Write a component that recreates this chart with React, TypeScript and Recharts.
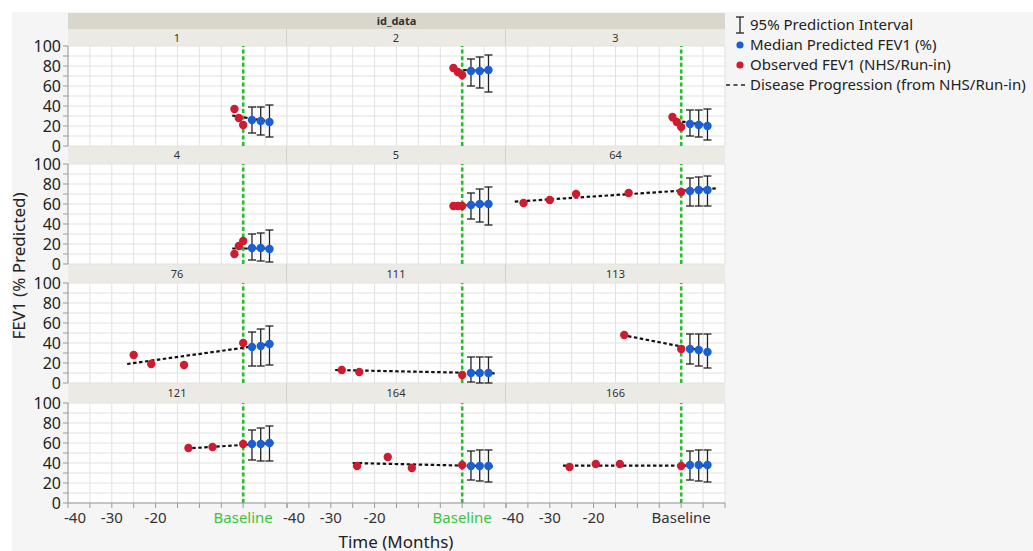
import { CartesianGrid, ComposedChart, ErrorBar, Line, ReferenceLine, Scatter, XAxis, YAxis } from "recharts";

const PANEL_IDS = ["1", "2", "3", "4", "5", "64", "76", "111", "113", "121", "164", "166"];

const OBS_MONTHS = [
  [-2, -1, 0], [-2, -1, 0], [-2, -1, 0],
  [-2, -1, 0], [-2, -1, 0], [-36, -30, -24, -12, 0],
  [-25, -21, -13.5, 0], [-27.5, -23.5, 0], [-13, 0],
  [-12.5, -7, 0], [-24, -17, -11.5, 0], [-25.5, -19.5, -14, 0],
];
const OBS_FEV1 = [
  [37, 28, 21], [78, 74, 71], [29, 24, 19],
  [10, 18, 23], [58, 58, 58], [61, 64, 70, 71, 72],
  [28, 19, 18, 40], [13, 11, 8], [48, 34],
  [55, 56, 59], [37, 46, 35, 38], [36, 39, 39, 37],
];

const PRED_MONTHS = [2, 4, 6];
const PRED_MEDIAN = [
  [26, 25, 24], [75, 75, 76], [22, 21, 20],
  [16, 16, 15], [59, 60, 60], [73, 74, 74],
  [36, 37, 39], [10, 10, 10], [34, 33, 31],
  [59, 59, 60], [37, 37, 37], [38, 38, 38],
];
const PRED_LOWER = [
  [13, 11, 9], [60, 58, 54], [10, 9, 6],
  [4, 3, 2], [45, 42, 39], [58, 58, 58],
  [17, 17, 18], [1, 0, 0], [19, 17, 15],
  [43, 42, 42], [23, 22, 21], [23, 22, 21],
];
const PRED_UPPER = [
  [39, 39, 41], [87, 89, 91], [36, 36, 37],
  [30, 31, 34], [71, 75, 77], [86, 87, 88],
  [51, 54, 57], [26, 26, 26], [49, 49, 49],
  [73, 75, 77], [52, 53, 53], [52, 53, 53],
];

// disease progression line: start / end month and value
const TREND_MONTHS = [
  [-2.5, 6.5], [-2.5, 6.5], [-2.5, 6.5],
  [-2.5, 6.5], [-2.5, 6.5], [-38, 8],
  [-26.5, 7], [-29, 7.5], [-13.5, 6.5],
  [-13, 7], [-25, 7], [-27, 7],
];
const TREND_FEV1 = [
  [30.5, 24], [76, 75.5], [26, 20.5],
  [15.5, 15.5], [58.3, 60], [62.3, 75.7],
  [19, 39.5], [13, 9.7], [48, 31],
  [54.5, 60], [40, 36.7], [37.3, 37.3],
];

const X_TICKS = [-40, -35, -30, -25, -20, -15, -10, -5, 0, 5, 10];
const X_LABELS: Record<number, string> = { [-40]: "-40", [-30]: "-30", [-20]: "-20", 0: "Baseline" };
const Y_TICKS = [0, 10, 20, 30, 40, 50, 60, 70, 80, 90, 100];

const COL_X = [68, 287, 506];
const ROW_TOP = [46, 164, 283, 403];
const PW = 219;
const PH = 100;
const YW = 60;
const XH = 34;
const PAD_X = 18;
const PAD_Y = 10;

const RED = "#cf1b30";
const BLUE = "#1a5fd4";
const GREEN = "#25c025";
const GRID = "#e2e2e2";
const FONT = "'Noto Sans', 'Open Sans', sans-serif";

function Dot({ cx, cy, fill }: any) {
  if (cx == null || cy == null) return null;
  return <circle cx={cx} cy={cy} r={4.2} fill={fill} />;
}

function Panel({ index }: { index: number }) {
  const r = Math.floor(index / 3);
  const c = index % 3;
  const showY = c === 0;
  const showX = r === 3;
  const obs = OBS_MONTHS[index].map((x, i) => ({ x, y: OBS_FEV1[index][i] }));
  const pred = PRED_MONTHS.map((x, i) => {
    const y = PRED_MEDIAN[index][i];
    return { x, y, err: [y - PRED_LOWER[index][i], PRED_UPPER[index][i] - y] };
  });
  const trend = TREND_MONTHS[index].map((x, i) => ({ x, y: TREND_FEV1[index][i] }));
  const width = PW + 2 * PAD_X + (showY ? YW : 0);
  const height = PH + 2 * PAD_Y + (showX ? XH : 0);

  const xTick = ({ x, y, payload }: any) => {
    const label = X_LABELS[payload.value] ?? "";
    const fill = payload.value === 0 && c < 2 ? "#3cc43c" : "#333";
    // the leftmost label is pushed inside the panel, as in the original
    const edge = payload.value === -40;
    return (
      <text x={edge ? x - 4 : x} y={y} dy={13} textAnchor={edge ? "start" : "middle"} fontSize={15} fill={fill} fontFamily={FONT}>
        {label}
      </text>
    );
  };

  return (
    <div style={{ position: "absolute", left: COL_X[c] - PAD_X - (showY ? YW : 0), top: ROW_TOP[r] - PAD_Y }}>
      <ComposedChart width={width} height={height} margin={{ top: PAD_Y, right: PAD_X, bottom: PAD_Y, left: PAD_X }}>
        <CartesianGrid stroke={GRID} strokeWidth={1} fill="#fff" />
        <XAxis
          type="number"
          dataKey="x"
          domain={[-40, 10]}
          ticks={X_TICKS}
          interval={0}
          allowDataOverflow
          hide={!showX}
          height={XH}
          tickSize={5}
          tickMargin={2}
          tick={xTick}
          stroke="#9a9a9a"
        />
        <YAxis
          type="number"
          domain={[0, 100]}
          ticks={Y_TICKS}
          interval={0}
          allowDataOverflow
          hide={!showY}
          width={YW}
          tickSize={5}
          tickFormatter={(v: number) => (v % 20 === 0 ? String(v) : "")}
          tick={{ fill: "#222", fontSize: 16, fontFamily: FONT }}
          stroke="#9a9a9a"
        />
        <ReferenceLine x={0} stroke={GREEN} strokeWidth={2.6} strokeDasharray="4 2.6" />
        <Scatter data={obs} dataKey="y" fill={RED} shape={(p: any) => <Dot {...p} fill={RED} />} isAnimationActive={false} />
        <Scatter data={pred} dataKey="y" fill={BLUE} shape={(p: any) => <Dot {...p} fill={BLUE} />} isAnimationActive={false}>
          <ErrorBar dataKey="err" direction="y" width={4} stroke="#222" strokeWidth={1.3} />
        </Scatter>
        <Line
          data={trend}
          dataKey="y"
          type="linear"
          stroke="#111"
          strokeWidth={2.2}
          strokeDasharray="3.5 2.5"
          dot={false}
          activeDot={false}
          isAnimationActive={false}
        />
      </ComposedChart>
    </div>
  );
}

function Headers() {
  const bands = [];
  bands.push(
    <div
      key="id"
      style={{
        position: "absolute", left: COL_X[0], top: 13, width: PW * 3, height: 16, background: "#d9d7cb",
        fontSize: 11, fontWeight: 700, color: "#333", textAlign: "center", lineHeight: "16px",
      }}
    >
      id_data
    </div>
  );
  for (let r = 0; r < 4; r++) {
    const top = r === 0 ? 29 : ROW_TOP[r - 1] + PH;
    const h = ROW_TOP[r] - top;
    for (let c = 0; c < 3; c++) {
      bands.push(
        <div
          key={`${r}-${c}`}
          style={{
            position: "absolute", left: COL_X[c], top, width: PW, height: h, background: "#ebeae4",
            boxSizing: "border-box", borderRight: c < 2 ? "1px solid #d2d0c8" : "none",
            fontSize: 11, color: "#333", textAlign: "center", lineHeight: `${h}px`,
          }}
        >
          {PANEL_IDS[r * 3 + c]}
        </div>
      );
    }
  }
  return <>{bands}</>;
}

function LegendBox() {
  const text = { position: "absolute" as const, fontSize: 15, color: "#222", whiteSpace: "nowrap" as const, lineHeight: "20px" };
  return (
    <>
      <svg style={{ position: "absolute", left: 722, top: 14 }} width={30} height={80}>
        <line x1={18} y1={3} x2={18} y2={19} stroke="#222" strokeWidth={1.3} />
        <line x1={14} y1={3} x2={22} y2={3} stroke="#222" strokeWidth={1.3} />
        <line x1={14} y1={19} x2={22} y2={19} stroke="#222" strokeWidth={1.3} />
        <circle cx={18} cy={31} r={3.6} fill={BLUE} />
        <circle cx={18} cy={51} r={3.6} fill={RED} />
        <line x1={4} y1={71} x2={26} y2={71} stroke="#222" strokeWidth={1.6} strokeDasharray="4 3.5" />
      </svg>
      <div style={{ ...text, left: 750, top: 14 }}>95% Prediction Interval</div>
      <div style={{ ...text, left: 750, top: 34 }}>Median Predicted FEV1 (%)</div>
      <div style={{ ...text, left: 750, top: 54 }}>Observed FEV1 (NHS/Run-in)</div>
      <div style={{ ...text, left: 750, top: 74 }}>Disease Progression (from NHS/Run-in)</div>
    </>
  );
}

export default function App() {
  return (
    <div style={{ position: "absolute", left: 0, top: 0, width: 1033, height: 551, background: "#fff", fontFamily: FONT, overflow: "hidden" }}>
      <div style={{ position: "absolute", left: 12, top: 12, right: 0, bottom: 0, background: "#f5f5f5" }} />
      <Headers />
      {PANEL_IDS.map((_, i) => (
        <Panel key={i} index={i} />
      ))}
      <div
        style={{
          position: "absolute", left: 18, top: 266, transform: "translate(-50%, -50%) rotate(-90deg)",
          fontSize: 17, color: "#222", whiteSpace: "nowrap",
        }}
      >
        FEV1 (% Predicted)
      </div>
      <div
        style={{
          position: "absolute", left: 396, top: 541, transform: "translate(-50%, -50%)",
          fontSize: 17, color: "#222", whiteSpace: "nowrap",
        }}
      >
        Time (Months)
      </div>
      <LegendBox />
    </div>
  );
}
